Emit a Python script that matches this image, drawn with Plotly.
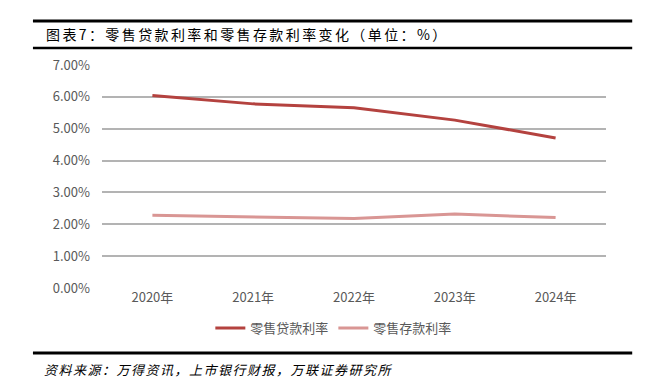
import plotly.graph_objects as go

years = ["2020年", "2021年", "2022年", "2023年", "2024年"]
loan_rate = [6.04, 5.78, 5.66, 5.27, 4.71]
deposit_rate = [2.28, 2.24, 2.18, 2.32, 2.21]
series_names = ["零售贷款利率", "零售存款利率"]
y_ticks = [0, 1, 2, 3, 4, 5, 6, 7]
y_tick_labels = ["0.00%", "1.00%", "2.00%", "3.00%", "4.00%", "5.00%", "6.00%", "7.00%"]

title_text = "图表7：零售贷款利率和零售存款利率变化（单位：%）"
source_text = "资料来源：万得资讯，上市银行财报，万联证券研究所"

FONT = "Noto Sans CJK SC, Noto Sans, sans-serif"

fig = go.Figure()
fig.add_trace(go.Scatter(x=years, y=loan_rate, name=series_names[0], mode="lines",
                         line=dict(color="#b4423f", width=3)))
fig.add_trace(go.Scatter(x=years, y=deposit_rate, name=series_names[1], mode="lines",
                         line=dict(color="#d99694", width=3)))

# page body has an 8px default margin, so the figure is offset by (8, 8)
fig.update_layout(
    width=647, height=380,
    margin=dict(l=94, r=49, t=57, b=100, autoexpand=False),
    paper_bgcolor="white", plot_bgcolor="white",
    font=dict(family=FONT, size=13, color="#595959"),
    showlegend=True,
    legend=dict(orientation="h", x=0.46, xanchor="center", y=-0.18, yanchor="middle",
                font=dict(size=13, color="#595959"), itemwidth=30,
                tracegroupgap=0, bgcolor="rgba(0,0,0,0)"),
    xaxis=dict(type="category", range=[-0.5, 4.5], showgrid=False, showline=False,
               zeroline=False, ticks="", automargin=False,
               tickfont=dict(size=13, color="#595959")),
    yaxis=dict(range=[0, 7], tickvals=y_ticks, ticktext=y_tick_labels,
               showgrid=True, gridcolor="#b3b3b3", gridwidth=1.5, zeroline=False,
               showline=False, ticks="", ticklabelstandoff=11, automargin=False,
               tickfont=dict(size=13, color="#595959")),
)

# header / footer rules
for yv, w in [(1.197, 3), (1.076, 2.5), (-0.291, 3)]:
    fig.add_shape(type="line", xref="paper", yref="paper", x0=-0.137, x1=1.052,
                  y0=yv, y1=yv, line=dict(color="black", width=w))

fig.add_annotation(text='<span style="letter-spacing:2.4px">' + title_text + "</span>",
                   xref="paper", yref="paper", x=-0.115, y=1.139,
                   xanchor="left", yanchor="middle", showarrow=False,
                   font=dict(family=FONT, size=14, color="black"))
fig.add_annotation(text='<span style="letter-spacing:1.5px"><i>' + source_text + "</i></span>",
                   xref="paper", yref="paper",
                   x=-0.119, y=-0.365, xanchor="left", yanchor="middle", showarrow=False,
                   font=dict(family=FONT, size=13, color="black"))

fig.write_html("out.html")
